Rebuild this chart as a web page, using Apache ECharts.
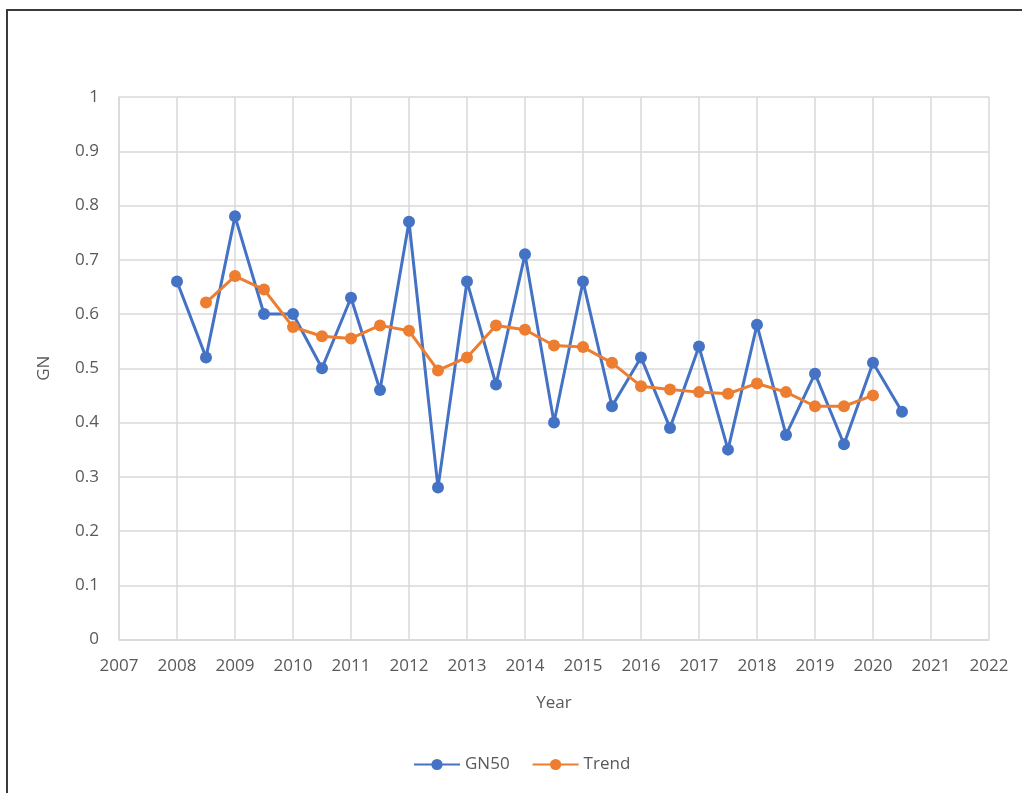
<!DOCTYPE html>
<html>
<head>
<meta charset="utf-8">
<script src="https://cdn.jsdelivr.net/npm/echarts@6/dist/echarts.min.js"></script>
<style>
  body { margin: 0; background: #fff; }
  #echarts { position: absolute; left: 0; top: 0; width: 1022px; height: 793px; }
  #frame { position: absolute; left: 6px; top: 9px; right: -10px; bottom: -10px;
           border-top: 2px solid #3a3a3a; border-left: 2px solid #3a3a3a; pointer-events: none; }
</style>
</head>
<body>
<div id="echarts"></div>
<div id="frame"></div>
<script type="text/javascript">
	// GN50, two readings a year
	var gnYears = [2008, 2008.5, 2009, 2009.5, 2010, 2010.5, 2011, 2011.5, 2012, 2012.5,
		2013, 2013.5, 2014, 2014.5, 2015, 2015.5, 2016, 2016.5, 2017, 2017.5,
		2018, 2018.5, 2019, 2019.5, 2020, 2020.5];
	var gnValues = [0.66, 0.52, 0.78, 0.60, 0.60, 0.50, 0.63, 0.46, 0.77, 0.28,
		0.66, 0.47, 0.71, 0.40, 0.66, 0.43, 0.52, 0.39, 0.54, 0.35,
		0.58, 0.377, 0.49, 0.36, 0.51, 0.42];
	// moving-average trend
	var trendYears = [2008.5, 2009, 2009.5, 2010, 2010.5, 2011, 2011.5, 2012, 2012.5,
		2013, 2013.5, 2014, 2014.5, 2015, 2015.5, 2016, 2016.5, 2017, 2017.5,
		2018, 2018.5, 2019, 2019.5, 2020];
	var trendValues = [0.621, 0.670, 0.645, 0.576, 0.559, 0.555, 0.579, 0.569, 0.496,
		0.520, 0.579, 0.571, 0.542, 0.539, 0.510, 0.467, 0.461, 0.456, 0.453,
		0.472, 0.456, 0.430, 0.430, 0.450];

	function pairs(xs, ys) {
		var out = [];
		for (var i = 0; i < xs.length; i++) out.push([xs[i], ys[i]]);
		return out;
	}

	var labelFont = 'Open Sans';
	var grey = '#595959';
	var gridLine = '#d9d9d9';

	var thechart = echarts.init(document.getElementById('echarts'));
	var theoption = {
		animation: false,
		backgroundColor: 'transparent',
		grid: { left: 119, right: 33, top: 97, bottom: 153.5, containLabel: false },
		legend: {
			top: 751,
			left: 408,
			itemWidth: 46,
			itemHeight: 14,
			itemGap: 22,
			textStyle: { color: grey, fontSize: 17, fontFamily: labelFont },
			data: ['GN50', 'Trend']
		},
		xAxis: {
			type: 'value',
			min: 2007,
			max: 2022,
			interval: 1,
			name: 'Year',
			nameLocation: 'middle',
			nameGap: 55,
			nameTextStyle: { color: grey, fontSize: 17, fontFamily: labelFont },
			axisLine: { show: true, lineStyle: { color: gridLine, width: 1.5 } },
			axisTick: { show: false },
			axisLabel: { color: grey, fontSize: 17, fontFamily: labelFont, margin: 18,
				formatter: function (v) { return String(v); } },
			splitLine: { show: true, lineStyle: { color: gridLine, width: 1.5 } }
		},
		yAxis: {
			type: 'value',
			min: 0,
			max: 1,
			interval: 0.1,
			name: 'GN',
			nameLocation: 'middle',
			nameGap: 66,
			nameTextStyle: { color: grey, fontSize: 17, fontFamily: labelFont },
			axisLine: { show: true, lineStyle: { color: gridLine, width: 1.5 } },
			axisTick: { show: false },
			axisLabel: { color: grey, fontSize: 17, fontFamily: labelFont, margin: 20,
				formatter: function (v) { return String(Math.round(v * 10) / 10); } },
			splitLine: { show: true, lineStyle: { color: gridLine, width: 1.5 } }
		},
		series: [
			{
				name: 'GN50',
				type: 'line',
				data: pairs(gnYears, gnValues),
				symbol: 'circle',
				symbolSize: 12,
				itemStyle: { color: '#4472C4' },
				lineStyle: { color: '#4472C4', width: 3 }
			},
			{
				name: 'Trend',
				type: 'line',
				data: pairs(trendYears, trendValues),
				symbol: 'circle',
				symbolSize: 12,
				itemStyle: { color: '#ED7D31' },
				lineStyle: { color: '#ED7D31', width: 3 }
			}
		]
	};
	thechart.setOption(theoption, true);
</script>
</body>
</html>
